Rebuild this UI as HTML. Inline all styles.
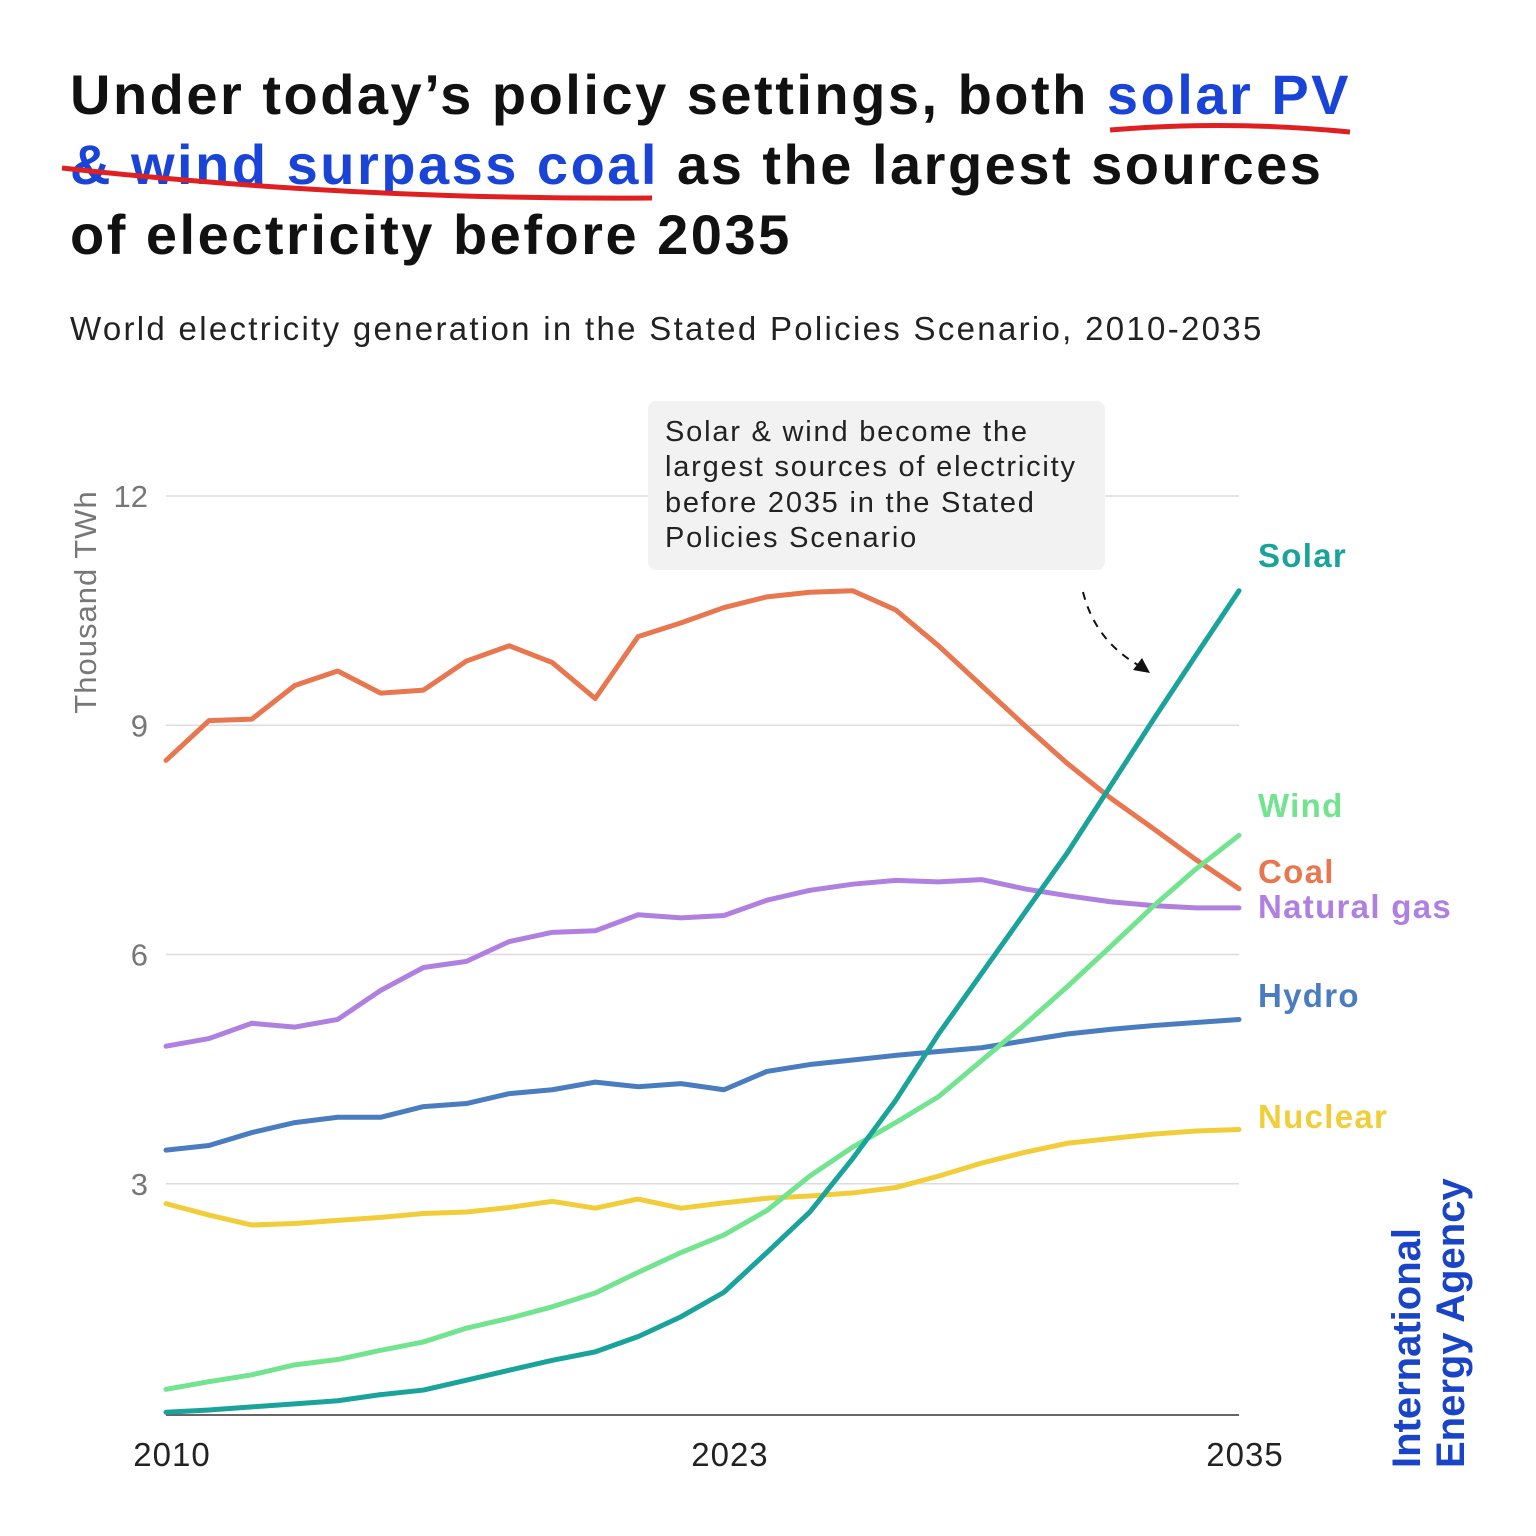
<!DOCTYPE html>
<html><head><meta charset="utf-8"><style>
html,body{margin:0;padding:0;background:#fff;}
body{width:1536px;height:1536px;position:relative;overflow:hidden;font-family:"Liberation Sans",sans-serif;}
.title{position:absolute;left:70px;top:60px;font-weight:bold;font-size:56px;line-height:70px;color:#111;letter-spacing:2.5px;margin:0;}
.blue{color:#1a44d8;}
.sub{position:absolute;left:70px;top:310px;font-size:33px;letter-spacing:2.3px;color:#222;}
svg{position:absolute;left:0;top:0;}
</style></head><body>
<h1 class="title">Under today’s policy settings, both <span class="blue">solar PV</span><br><span class="blue">&amp; wind surpass coal</span> as the largest sources<br>of electricity before 2035</h1>
<div class="sub">World electricity generation in the Stated Policies Scenario, 2010-2035</div>
<svg id="chart" width="1536" height="1536">
<path d="M1110 130 Q1230 120 1350 132" stroke="#e02020" stroke-width="5" fill="none"/>
<path d="M62 168 Q350 200 652 198" stroke="#e02020" stroke-width="5" fill="none"/>
<g id="grid"></g>
<g id="lines"></g>
<rect x="648" y="401" width="457" height="169" rx="8" fill="#f2f2f2"/>
<text font-size="29" letter-spacing="1.8" fill="#222" font-family="Liberation Sans, sans-serif">
<tspan x="665" y="441">Solar &amp; wind become the</tspan>
<tspan x="665" y="476">largest sources of electricity</tspan>
<tspan x="665" y="512">before 2035 in the Stated</tspan>
<tspan x="665" y="547">Policies Scenario</tspan></text>
<path d="M1083 592 Q1095 640 1138 665" stroke="#111" stroke-width="2" stroke-dasharray="8,7" fill="none"/>
<polygon points="1150,673 1133,670 1142,658" fill="#111"/>
<text x="0" y="0" transform="translate(96,602) rotate(-90)" text-anchor="middle" font-size="31" letter-spacing="1" fill="#777">Thousand TWh</text>
<g transform="translate(1420,1468) rotate(-90)" font-weight="bold" font-size="40" fill="#1a44c8">
<text x="0" y="0">International</text><text x="0" y="44">Energy Agency</text></g>
</svg>
<script>
const years=[2010,2011,2012,2013,2014,2015,2016,2017,2018,2019,2020,2021,2022,2023,2024,2025,2026,2027,2028,2029,2030,2031,2032,2033,2034,2035];
const coal=[8.54,9.06,9.08,9.52,9.71,9.42,9.46,9.84,10.04,9.82,9.35,10.16,10.34,10.54,10.68,10.74,10.76,10.51,10.04,9.52,9.0,8.5,8.05,7.65,7.24,6.86];
const solar=[0.01,0.04,0.08,0.12,0.16,0.24,0.3,0.43,0.56,0.69,0.8,1.0,1.26,1.58,2.1,2.63,3.33,4.09,4.96,5.75,6.54,7.33,8.2,9.07,9.92,10.76];
const wind=[0.31,0.41,0.5,0.63,0.7,0.82,0.93,1.11,1.24,1.39,1.57,1.84,2.1,2.33,2.65,3.1,3.48,3.8,4.14,4.61,5.08,5.58,6.1,6.63,7.12,7.56];
const gas=[4.8,4.9,5.1,5.05,5.15,5.53,5.83,5.91,6.17,6.29,6.31,6.52,6.48,6.51,6.71,6.84,6.92,6.97,6.95,6.98,6.86,6.77,6.69,6.64,6.61,6.61];
const hydro=[3.44,3.5,3.67,3.8,3.87,3.87,4.01,4.05,4.18,4.23,4.33,4.27,4.31,4.23,4.47,4.56,4.62,4.68,4.73,4.78,4.87,4.96,5.02,5.07,5.11,5.15];
const nuclear=[2.74,2.59,2.46,2.48,2.52,2.56,2.61,2.63,2.69,2.77,2.68,2.8,2.68,2.75,2.81,2.84,2.88,2.95,3.1,3.27,3.41,3.53,3.59,3.65,3.69,3.71];
const yTicks=[3,6,9,12];
const xTicks=[2010,2023,2035];
const NS='http://www.w3.org/2000/svg';
const x=v=>166+(v-2010)*(1239-166)/25;
const y=v=>1413-v*(1413-496)/12;
const grid=document.getElementById('grid');
yTicks.forEach(t=>{
  const l=document.createElementNS(NS,'line');
  
  
  l.setAttribute('x1',166);l.setAttribute('x2',1239);l.setAttribute('y1',y(t));l.setAttribute('y2',y(t));
  l.setAttribute('stroke','#dcdcdc');l.setAttribute('stroke-width','1.5');grid.appendChild(l);
  const tx=document.createElementNS(NS,'text');
  
  
  tx.setAttribute('x',148);tx.setAttribute('y',y(t)+11);tx.setAttribute('text-anchor','end');
  tx.setAttribute('font-size','31');tx.setAttribute('fill','#777');tx.textContent=t;grid.appendChild(tx);
});
const ax=document.createElementNS(NS,'line');


ax.setAttribute('x1',166);ax.setAttribute('x2',1239);ax.setAttribute('y1',1415);ax.setAttribute('y2',1415);
ax.setAttribute('stroke','#666');ax.setAttribute('stroke-width','2');grid.appendChild(ax);
xTicks.forEach(t=>{
  const tx=document.createElementNS(NS,'text');
  
  
  tx.setAttribute('x',x(t)+6);tx.setAttribute('y',1466);tx.setAttribute('text-anchor','middle');
  tx.setAttribute('font-size','33');tx.setAttribute('letter-spacing','1');tx.setAttribute('fill','#222');tx.textContent=t;grid.appendChild(tx);
});
const series=[
 ['nuclear',nuclear,'#f2cd3a','Nuclear',1128],
 ['hydro',hydro,'#4a7cc0','Hydro',1007],
 ['gas',gas,'#b080e0','Natural gas',918],
 ['coal',coal,'#e8764f','Coal',883],
 ['wind',wind,'#72e38f','Wind',817],
 ['solar',solar,'#1aa39a','Solar',567]
];
const lg=document.getElementById('lines');
series.forEach(s=>{
  const p=document.createElementNS(NS,'polyline');
  
  
  p.setAttribute('points',years.map((yr,i)=>x(yr)+','+y(s[1][i])).join(' '));
  p.setAttribute('fill','none');p.setAttribute('stroke',s[2]);p.setAttribute('stroke-width','5');
  p.setAttribute('stroke-linejoin','round');p.setAttribute('stroke-linecap','round');
  lg.appendChild(p);
  const t=document.createElementNS(NS,'text');
  
  
  t.setAttribute('x',1258);t.setAttribute('y',s[4]);t.setAttribute('font-size','33');
  t.setAttribute('letter-spacing','1.3');
  t.setAttribute('font-weight','bold');t.setAttribute('fill',s[2]);t.textContent=s[3];
  lg.appendChild(t);
});
</script>
</body></html>
